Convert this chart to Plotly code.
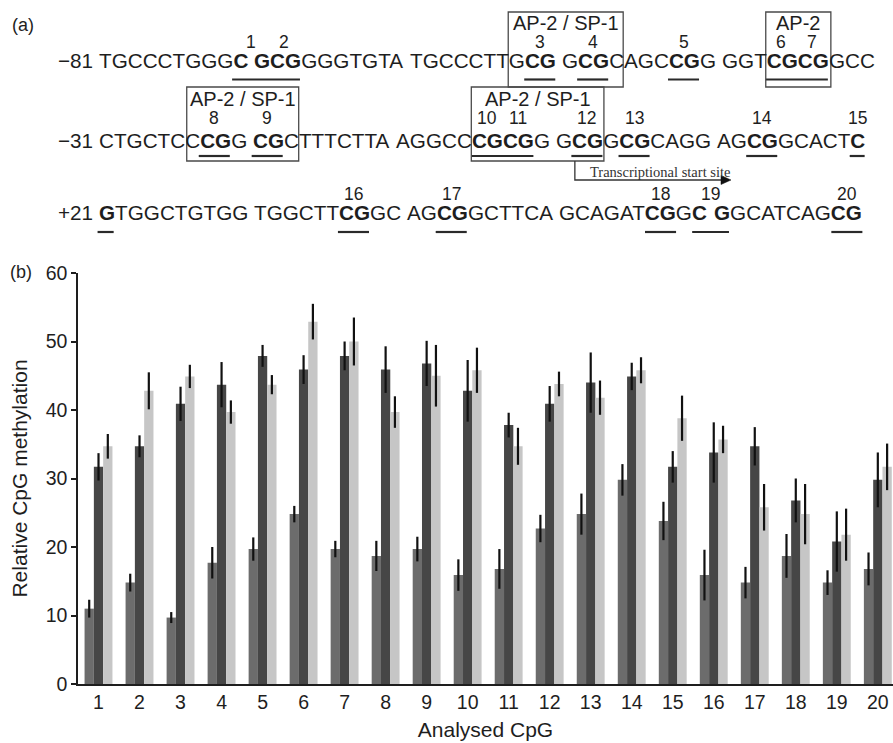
import plotly.graph_objects as go

# ---------------- data (panel b) ----------------
cpg_labels = [str(i) for i in range(1, 21)]
cpg_x = list(range(1, 21))

grp1_vals = [11.0, 14.8, 9.7, 17.7, 19.7, 24.8, 19.7, 18.7, 19.7, 15.9,
             16.8, 22.7, 24.8, 29.8, 23.8, 15.9, 14.8, 18.7, 14.8, 16.8]
grp1_err = [1.3, 1.3, 0.8, 2.3, 1.7, 1.2, 1.2, 2.2, 1.8, 2.3,
            2.9, 2.0, 3.0, 2.3, 2.8, 3.7, 2.3, 3.2, 1.8, 2.4]

grp2_vals = [31.7, 34.7, 40.9, 43.7, 47.9, 45.9, 47.9, 45.9, 46.8, 42.8,
             37.8, 40.9, 44.0, 44.9, 31.7, 33.8, 34.7, 26.8, 20.8, 29.8]
grp2_err = [2.0, 1.6, 2.5, 3.3, 1.6, 2.1, 2.1, 3.4, 3.3, 4.5,
            1.8, 2.6, 4.4, 2.0, 2.3, 4.4, 2.8, 3.2, 4.4, 4.0]

grp3_vals = [34.7, 42.8, 44.9, 39.7, 43.7, 52.9, 50.0, 39.7, 45.0, 45.8,
             34.7, 43.8, 41.8, 45.8, 38.8, 35.7, 25.8, 24.8, 21.8, 31.7]
grp3_err = [1.8, 2.7, 1.7, 1.7, 1.4, 2.6, 3.5, 2.3, 4.5, 3.3,
            2.7, 1.8, 2.5, 1.9, 3.3, 2.0, 3.4, 4.4, 3.8, 3.4]

y_ticks = [0, 10, 20, 30, 40, 50, 60]

# ---------------- data (panel a) ----------------
seq_prefix = ["\u221281", "\u221231", "+21"]
seq_groups = [
    ["TGCCCTGGGC", "GCGGGGTGTA", "TGCCCTTGCG", "GCGCAGCCGG", "GGTCGCGGCC"],
    ["CTGCTCCCGG", "CGCTTTCTTA", "AGGCCCGCGG", "GCGGCGCAGG", "AGCGGCACTC"],
    ["GTGGCTGTGG", "TGGCTTCGGC", "AGCGGCTTCA", "GCAGATCGGC", "GGCATCAGCG"],
]
# position (line, group, index) of the C of each analysed CpG 1..20
cpg_c_pos = [(0, 0, 9), (0, 1, 1), (0, 2, 8), (0, 3, 1), (0, 3, 7), (0, 4, 3), (0, 4, 5),
             (1, 0, 7), (1, 1, 0), (1, 2, 5), (1, 2, 7), (1, 3, 1), (1, 3, 4), (1, 4, 2),
             (1, 4, 9), (2, 1, 6), (2, 2, 2), (2, 3, 6), (2, 3, 9), (2, 4, 8)]
site_boxes = [("AP-2 / SP-1", 3, 4), ("AP-2", 6, 7), ("AP-2 / SP-1", 8, 9), ("AP-2 / SP-1", 10, 12)]
tss_label = "Transcriptional start site"

# ---------------- layout geometry (pixels) ----------------
W, H = 893, 743
ML, MR, MT, MB = 78, 0, 273, 59
PW, PH = W - ML - MR, H - MT - MB
FONT = "Liberation Sans, Arial, Helvetica, sans-serif"
FS = 20.7
X0 = 56.7
line_y = [60, 140.5, 212]
num_y = [42, 117.5, 194]
ul_y = [79.5, 156, 232]
box_pad = [(16, 15), (0, 3), (12, 16), (0, 1.5)]
box_y = [(12, 87), (12, 87), (87, 161), (87, 161)]
label_y = [23.5, 23.5, 99.5, 99.5]


def px(x):
    return (x - ML) / PW


def py(y):
    return (MT + PH - y) / PH


EM = {" ": 0.278, "\u2212": 0.584, "+": 0.584, "A": 0.667, "C": 0.722, "G": 0.778, "T": 0.611}
for d in "0123456789":
    EM[d] = 0.556


def wid(s):
    return sum(EM[c] for c in s) * FS


def group_start(line, g):
    x = X0 + wid(seq_prefix[line] + " ")
    for gg in range(g):
        x += wid(seq_groups[line][gg] + " ")
    return x


def char_span(pos):
    line, g, i = pos
    s = group_start(line, g) + wid(seq_groups[line][g][:i])
    return s, s + wid(seq_groups[line][g][i])


def next_pos(pos):
    line, g, i = pos
    if i < 9:
        return (line, g, i + 1)
    if g < 4:
        return (line, g + 1, 0)
    return (line + 1, 0, 0)


cpg_g_pos = [next_pos(p) for p in cpg_c_pos]
bold = set(cpg_c_pos) | set(cpg_g_pos)

fig = go.Figure()
colors = ["#6c6c6c", "#464646", "#c6c6c6"]
names = ["Group 1", "Group 2", "Group 3"]
for vals, errs, col, nm in zip([grp1_vals, grp2_vals, grp3_vals],
                               [grp1_err, grp2_err, grp3_err], colors, names):
    fig.add_trace(go.Bar(
        x=cpg_x, y=vals, name=nm, marker=dict(color=col, line=dict(width=0)),
        error_y=dict(type="data", array=errs, visible=True, width=0, thickness=2.2, color="#111111"),
        showlegend=False,
    ))

annotations = []
shapes = []
TXT = "#1e1e1e"

# sequence text
for li in range(3):
    annotations.append(dict(text=seq_prefix[li], x=px(X0), y=py(line_y[li]), xanchor="left",
                            yanchor="middle", font=dict(size=FS, family=FONT, color=TXT)))
    for g, grp in enumerate(seq_groups[li]):
        html = ""
        run, run_b = "", None
        for i, ch in enumerate(grp):
            b = (li, g, i) in bold
            if run_b is None or b == run_b:
                run += ch
            else:
                html += ("<b>%s</b>" % run) if run_b else run
                run = ch
            run_b = b
        html += ("<b>%s</b>" % run) if run_b else run
        annotations.append(dict(text=html, x=px(group_start(li, g)), y=py(line_y[li]),
                                xanchor="left", yanchor="middle",
                                font=dict(size=FS, family=FONT, color=TXT)))

# underlines and numbers
spans = []
for k, (c, gpos) in enumerate(zip(cpg_c_pos, cpg_g_pos)):
    cs, ce = char_span(c)
    gs, ge = char_span(gpos)
    if c[0] == gpos[0]:
        segs = [(c[0], cs, ge)]
        cx = (cs + ge) / 2
    else:
        segs = [(c[0], cs, ce), (gpos[0], gs, ge)]
        cx = (cs + ce) / 2
    annotations.append(dict(text=cpg_labels[k], x=px(cx), y=py(num_y[c[0]]), xanchor="center",
                            yanchor="middle", font=dict(size=17.5, family=FONT, color=TXT)))
    for sg in segs:
        if spans and spans[-1][0] == sg[0] and abs(sg[1] - spans[-1][2]) < 1:
            spans[-1] = (sg[0], spans[-1][1], sg[2])
        else:
            spans.append(sg)
for li, a, b in spans:
    shapes.append(dict(type="line", xref="paper", yref="paper", x0=px(a), x1=px(b),
                       y0=py(ul_y[li]), y1=py(ul_y[li]), line=dict(color="#2a2a2a", width=2.2)))

# binding site boxes
for (lab, first, last), (pl, pr), (yt, yb), ly in zip(site_boxes, box_pad, box_y, label_y):
    xl = char_span(cpg_c_pos[first - 1])[0] - pl
    xr = char_span(cpg_g_pos[last - 1])[1] + pr
    shapes.append(dict(type="rect", xref="paper", yref="paper", x0=px(xl), x1=px(xr),
                       y0=py(yb), y1=py(yt), line=dict(color="#4a4a4a", width=1.3)))
    annotations.append(dict(text=lab, x=px((xl + xr) / 2), y=py(ly), xanchor="center",
                            yanchor="middle", font=dict(size=20, family=FONT, color=TXT)))

# transcriptional start site arrow
tx = char_span(cpg_c_pos[11])[0] + 3.5
ty0, ty1, tip = 161, 180, 731
shapes.append(dict(type="path", xref="paper", yref="paper",
                   path="M %f,%f L %f,%f L %f,%f" % (px(tx), py(ty0), px(tx), py(ty1), px(tip - 8), py(ty1)),
                   line=dict(color="#333333", width=1.3)))
shapes.append(dict(type="path", xref="paper", yref="paper", fillcolor="#111111",
                   path="M %f,%f L %f,%f L %f,%f Z" % (px(tip - 10), py(ty1 - 4.5), px(tip), py(ty1),
                                                        px(tip - 10), py(ty1 + 4.5)),
                   line=dict(color="#111111", width=0.5)))
annotations.append(dict(text=tss_label, x=px(tx + 14), y=py(172), xanchor="left", yanchor="middle",
                        font=dict(size=14.5, family="Liberation Serif, Times New Roman, serif", color="#333333")))

# panel letters
annotations.append(dict(text="(a)", x=px(11), y=py(25), xanchor="left", yanchor="middle",
                        font=dict(size=18, family=FONT, color=TXT)))
annotations.append(dict(text="(b)", x=px(9), y=py(272), xanchor="left", yanchor="middle",
                        font=dict(size=18, family=FONT, color=TXT)))

for a in annotations:
    a.update(xref="paper", yref="paper", showarrow=False, borderpad=0)

fig.update_layout(
    width=W, height=H, autosize=False,
    margin=dict(l=ML, r=MR, t=MT, b=MB, pad=0),
    paper_bgcolor="white", plot_bgcolor="white",
    barmode="group", bargap=0.32, bargroupgap=0,
    annotations=annotations, shapes=shapes,
    font=dict(family=FONT, color=TXT),
)
fig.update_xaxes(range=[0.5, 20.37], tickmode="array", tickvals=cpg_x, ticktext=cpg_labels,
                 showline=True, linecolor="#1e1e1e", linewidth=1.5, ticks="", showgrid=False,
                 zeroline=False, tickfont=dict(size=19.5, family=FONT, color=TXT),
                 title=dict(text="Analysed CpG", font=dict(size=21, family=FONT, color=TXT), standoff=10))
fig.update_yaxes(range=[0, 60], tickmode="array", tickvals=y_ticks, showline=True,
                 linecolor="#1e1e1e", linewidth=1.5, ticks="outside", ticklen=5, tickwidth=1.5,
                 tickcolor="#1e1e1e", showgrid=False, zeroline=False,
                 tickfont=dict(size=19.5, family=FONT, color=TXT),
                 title=dict(text="Relative CpG methylation", font=dict(size=21, family=FONT, color=TXT),
                            standoff=12))

fig.write_html("out.html", config={"displayModeBar": False},
               post_script="document.body.style.margin='0px';")
